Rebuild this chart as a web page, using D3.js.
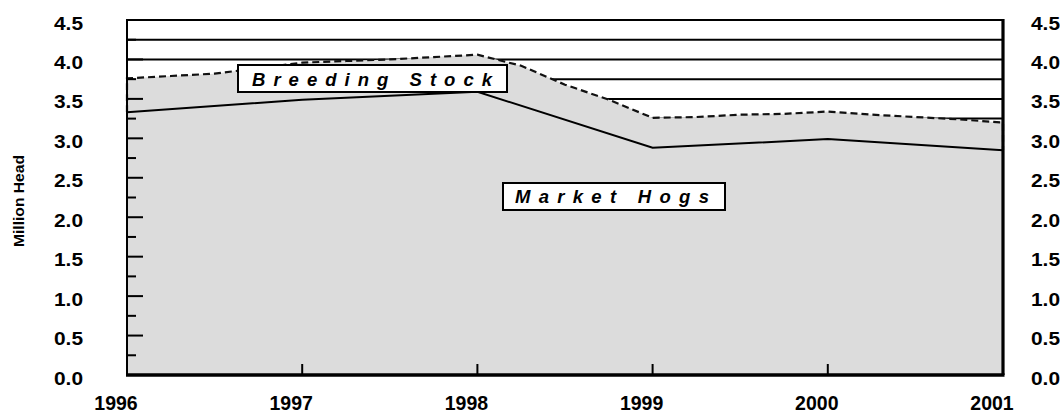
<!DOCTYPE html>
<html><head><meta charset="utf-8">
<script src="https://cdn.jsdelivr.net/npm/d3@7"></script>
<style>
html,body{margin:0;padding:0;background:#fff;}
svg{display:block;}
text{font-family:"Liberation Sans",Arial,sans-serif;font-weight:bold;fill:#000;}
</style></head>
<body>
<svg id="chart" width="1060" height="414"></svg>
<script>
// ---- data ----
const yearLabels = ["1996","1997","1998","1999","2000","2001"];
const years = [1996, 1997, 1998, 1999, 2000, 2001];
const marketHogs = [3.33, 3.49, 3.59, 2.88, 2.99, 2.85];
const quarterDates = [1996, 1996.25, 1996.5, 1996.75, 1997, 1997.25, 1997.5, 1997.75,
  1998, 1998.25, 1998.5, 1998.75, 1999, 1999.25, 1999.5, 1999.75,
  2000, 2000.25, 2000.5, 2000.75, 2001];
const totalInventory = [3.76, 3.79, 3.82, 3.89, 3.96, 3.98, 4.00, 4.03,
  4.06, 3.92, 3.68, 3.49, 3.26, 3.27, 3.30, 3.31,
  3.34, 3.30, 3.27, 3.24, 3.20];
const yTickLabels = ["0.0","0.5","1.0","1.5","2.0","2.5","3.0","3.5","4.0","4.5"];
const yTickValues = [0, 0.5, 1.0, 1.5, 2.0, 2.5, 3.0, 3.5, 4.0, 4.5];
const minorTickValues = [0.25, 0.75, 1.25, 1.75, 2.25, 2.75, 3.25, 3.75, 4.25];
const gridValues = [0.25,0.5,0.75,1,1.25,1.5,1.75,2,2.25,2.5,2.75,3,3.25,3.5,3.75,4,4.25,4.5];
const seriesLabels = ["Breeding Stock", "Market Hogs"];
const yTitle = "Million Head";

// ---- layout ----
const L = 127, R = 1003, T = 20, B = 375;
const svg = d3.select("#chart");
const x = d3.scaleLinear().domain([1996, 2001]).range([L, R]);
const y = d3.scaleLinear().domain([0, 4.5]).range([B, T]);

// gridlines
svg.append("g").selectAll("line").data(gridValues).join("line")
  .attr("x1", L).attr("x2", R)
  .attr("y1", d => y(d)).attr("y2", d => y(d))
  .attr("stroke", "#000").attr("stroke-width", 2);

// total area
const totalPts = quarterDates.map((d, i) => ({x: d, v: totalInventory[i]}));
svg.append("path").datum(totalPts)
  .attr("d", d3.area().x(d => x(d.x)).y0(y(0)).y1(d => y(d.v)))
  .attr("fill", "#dcdcdc");

// dashed outline of breeding stock band
const outline = [{x: years[0], v: marketHogs[0]}, ...totalPts, {x: years[years.length-1], v: marketHogs[marketHogs.length-1]}];
svg.append("path").datum(outline)
  .attr("d", d3.line().x(d => x(d.x)).y(d => y(d.v)))
  .attr("fill", "none").attr("stroke", "#111").attr("stroke-width", 2.2)
  .attr("stroke-dasharray", "7,4");

// market hogs line
const mhPts = years.map((d, i) => ({x: d, v: marketHogs[i]}));
svg.append("path").datum(mhPts)
  .attr("d", d3.line().x(d => x(d.x)).y(d => y(d.v)))
  .attr("fill", "none").attr("stroke", "#000").attr("stroke-width", 2);

// left axis ticks (inward)
svg.append("g").selectAll("line").data(yTickValues).join("line")
  .attr("x1", L).attr("x2", L + 16)
  .attr("y1", d => y(d)).attr("y2", d => y(d))
  .attr("stroke", "#000").attr("stroke-width", 2);
svg.append("g").selectAll("line").data(minorTickValues).join("line")
  .attr("x1", L).attr("x2", L + 9)
  .attr("y1", d => y(d)).attr("y2", d => y(d))
  .attr("stroke", "#000").attr("stroke-width", 2);

// x ticks (inward)
svg.append("g").selectAll("line").data(years).join("line")
  .attr("x1", d => x(d)).attr("x2", d => x(d))
  .attr("y1", B).attr("y2", B - 11)
  .attr("stroke", "#000").attr("stroke-width", 2);

// frame
svg.append("line").attr("x1", L).attr("x2", L).attr("y1", T - 1).attr("y2", B)
  .attr("stroke", "#000").attr("stroke-width", 2);
svg.append("line").attr("x1", R).attr("x2", R).attr("y1", T - 1).attr("y2", B)
  .attr("stroke", "#000").attr("stroke-width", 3.2);
svg.append("line").attr("x1", L - 1).attr("x2", R + 1.5).attr("y1", B).attr("y2", B)
  .attr("stroke", "#000").attr("stroke-width", 3.5);
svg.append("line").attr("x1", L).attr("x2", R).attr("y1", T).attr("y2", T)
  .attr("stroke", "#000").attr("stroke-width", 2);

// y labels left & right
svg.append("g").selectAll("text").data(yTickValues).join("text")
  .attr("x", 83).attr("y", d => y(d) + 9.5)
  .attr("text-anchor", "end").attr("font-size", 17.5)
  .attr("textLength", 29).attr("lengthAdjust", "spacingAndGlyphs")
  .text((d, i) => yTickLabels[i]);
svg.append("g").selectAll("text").data(yTickValues).join("text")
  .attr("x", 1031).attr("y", d => y(d) + 9.5)
  .attr("text-anchor", "start").attr("font-size", 17.5)
  .attr("textLength", 29).attr("lengthAdjust", "spacingAndGlyphs")
  .text((d, i) => yTickLabels[i]);

// x labels
svg.append("g").selectAll("text").data(years).join("text")
  .attr("x", d => x(d) - 11).attr("y", 410)
  .attr("text-anchor", "middle").attr("font-size", 19.5)
  .text((d, i) => yearLabels[i]);

// y title
svg.append("text")
  .attr("transform", "translate(24,201) rotate(-90)")
  .attr("text-anchor", "middle").attr("font-size", 14.5)
  .attr("textLength", 92).attr("lengthAdjust", "spacingAndGlyphs")
  .text(yTitle);

// label boxes
function labelBox(x0, y0, w, h, tx, ty, tw, txt) {
  svg.append("rect").attr("x", x0).attr("y", y0).attr("width", w).attr("height", h)
    .attr("fill", "#fff").attr("stroke", "#000").attr("stroke-width", 2);
  svg.append("text").attr("x", tx).attr("y", ty)
    .attr("font-size", 18.5).attr("font-style", "italic")
    .attr("textLength", tw).attr("lengthAdjust", "spacing")
    .text(txt);
}
labelBox(238, 65, 269, 27, 252, 86, 240, seriesLabels[0]);
labelBox(503, 183, 222, 27, 515, 203, 194, seriesLabels[1]);
</script>
</body></html>
